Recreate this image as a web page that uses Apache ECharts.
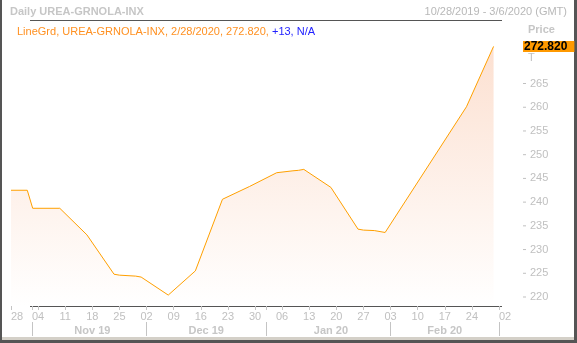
<!DOCTYPE html>
<html>
<head>
<meta charset="utf-8">
<script src="https://cdn.jsdelivr.net/npm/echarts@6/dist/echarts.min.js"></script>
<style>
html,body{margin:0;padding:0;background:#fff;}
#chart{width:577px;height:343px;}
</style>
</head>
<body>
<div id="chart"></div>
<script>
// ---- data ----
const axisStart = '2019-10-28';
const axisEnd = '2020-03-02';
const pointDates = ['2019-10-28','2019-10-31','2019-11-01','2019-11-08','2019-11-15','2019-11-22','2019-11-25','2019-11-28','2019-11-29','2019-12-06','2019-12-13','2019-12-20','2019-12-27','2020-01-03','2020-01-08','2020-01-09','2020-01-10','2020-01-17','2020-01-24','2020-01-27','2020-01-29','2020-01-31','2020-02-21','2020-02-28'];
const pointValues = [242.5,242.5,238.7,238.7,233.1,224.8,224.6,224.4,224.2,220.4,225.5,240.6,243.3,246.2,246.6,246.7,246.9,243.1,234.3,234.1,234.0,233.6,260.1,272.82];
const yTicks = [220,225,230,235,240,245,250,255,260,265];
const lastPrice = 272.82;
const titleText = 'Daily UREA-GRNOLA-INX';
const rangeText = '10/28/2019 - 3/6/2020 (GMT)';
const legendMain = 'LineGrd, UREA-GRNOLA-INX, 2/28/2020, 272.820, ';
const legendChange = '+13, N/A';
const monthNames = ['Jan','Feb','Mar','Apr','May','Jun','Jul','Aug','Sep','Oct','Nov','Dec'];

// ---- business-day categories ----
function fmt(d){return d.toISOString().slice(0,10);}
const categories = [];
{
  const s = new Date(axisStart+'T00:00:00Z'), e = new Date(axisEnd+'T00:00:00Z');
  for (let d = new Date(s); d <= e; d.setUTCDate(d.getUTCDate()+1)) {
    const w = d.getUTCDay();
    if (w !== 0 && w !== 6) categories.push(fmt(d));
  }
}
const dow = c => new Date(c+'T00:00:00Z').getUTCDay();
const monthStarts = [];
categories.forEach((c,i)=>{ if (i>0 && c.slice(5,7)!==categories[i-1].slice(5,7)) monthStarts.push(i); });
const monthLabelIdx = {};
for (let k=0;k<monthStarts.length-1;k++){
  const m = Math.round((monthStarts[k]+monthStarts[k+1])/2);
  const c = categories[monthStarts[k]];
  monthLabelIdx[m] = monthNames[+c.slice(5,7)-1]+' '+c.slice(2,4);
}
const seriesData = pointDates.map((d,i)=>[d, pointValues[i]]);

const FONT = '"Liberation Sans", Arial, sans-serif';
const chart = echarts.init(document.getElementById('chart'), null, {renderer:'canvas'});
chart.setOption({
  animation:false,
  backgroundColor:'#ffffff',
  textStyle:{fontFamily:FONT},
  title:[
    {text:titleText,left:10,top:6,padding:0,textStyle:{fontSize:11,fontWeight:'bold',color:'#c6c6c6',fontFamily:FONT}},
    {text:rangeText,right:10,top:6,padding:0,textStyle:{fontSize:11,fontWeight:'normal',color:'#b8b8b8',fontFamily:FONT}},
    {text:'Price',left:528,top:24,padding:0,textStyle:{fontSize:11,fontWeight:'bold',color:'#c6c6c6',fontFamily:FONT}},
    {text:'T',left:528,top:52,padding:0,textStyle:{fontSize:11,fontWeight:'normal',color:'#c0c0c0',fontFamily:FONT}}
  ],
  legend:{
    left:11, top:26, itemWidth:0, itemHeight:0, itemGap:0, padding:0,
    selectedMode:false,
    data:['UREA-GRNOLA-INX'],
    formatter:()=>'{o|'+legendMain+'}{b|'+legendChange+'}',
    textStyle:{fontFamily:FONT,fontSize:11,
      rich:{o:{color:'#ff9122',fontSize:11,fontFamily:FONT},b:{color:'#2222ff',fontSize:11,fontFamily:FONT}}}
  },
  grid:{left:11,right:78,top:35,bottom:37},
  xAxis:[
    {type:'category',data:categories,boundaryGap:false,
     axisLine:{show:false},
     axisTick:{show:true,length:4,lineStyle:{color:'#c4c4c4'},
       interval:(i,v)=>dow(v)===1 || monthStarts.indexOf(i)>=0},
     axisLabel:{color:'#c0c0c0',fontSize:11,margin:5,fontFamily:FONT,
       alignMinLabel:'left',alignMaxLabel:'left',
       interval:(i,v)=>dow(v)===1,
       formatter:v=>v.slice(8,10)},
     splitLine:{show:false}},
    {type:'category',data:categories,boundaryGap:false,position:'bottom',offset:16,
     axisLine:{show:false},
     axisTick:{show:true,length:14,lineStyle:{color:'#c4c4c4'},
       interval:(i)=>monthStarts.indexOf(i)>=0},
     axisLabel:{color:'#c6c6c6',fontSize:11,fontWeight:'bold',margin:3,fontFamily:FONT,
       interval:(i)=>monthLabelIdx[i]!==undefined,
       formatter:(v,i)=>monthLabelIdx[i]||''},
     splitLine:{show:false}}
  ],
  yAxis:{type:'value',position:'right',offset:24,min:218.1,max:275.23,
    axisLine:{show:false},
    axisTick:{show:false},
    axisLabel:{color:'#c0c0c0',fontSize:11,margin:0,fontFamily:FONT,customValues:yTicks,
      formatter:v=>(yTicks.indexOf(v)>=0 ? '{t| }{n|'+v+'}' : ''),
      rich:{
        t:{width:3,height:1,lineHeight:1,backgroundColor:'#c0c0c0',verticalAlign:'middle',fontSize:1},
        n:{color:'#c0c0c0',fontSize:11,fontFamily:FONT,padding:[0,0,0,4],verticalAlign:'middle'}
      }},
    splitLine:{show:false}},
  series:[{
    name:'UREA-GRNOLA-INX',type:'line',data:seriesData,showSymbol:false,symbol:'none',
    lineStyle:{color:'#ffa000',width:1},
    itemStyle:{color:'#ffa000'},
    areaStyle:{color:new echarts.graphic.LinearGradient(0,0,0,1,[
      {offset:0,color:'#fbd3bd'},{offset:1,color:'#ffffff'}])},
    markLine:{silent:true,symbol:['none','none'],
      lineStyle:{color:'rgba(0,0,0,0)',width:1,type:'solid'},
      data:[{yAxis:lastPrice}],
      label:{show:true,position:'end',distance:24,opacity:1,
        formatter:()=>lastPrice.toFixed(3),
        backgroundColor:'#ff9900',color:'#000000',fontWeight:'bold',fontSize:12,
        fontFamily:FONT,padding:[0,7,0,1],lineHeight:11}}
  }],
  graphic:[
    {type:'line',shape:{x1:30,y1:20.5,x2:502,y2:20.5},style:{stroke:'#555555',lineWidth:1},silent:true},
    {type:'line',shape:{x1:30,y1:306.5,x2:502,y2:306.5},style:{stroke:'#555555',lineWidth:1},silent:true},
    {type:'rect',shape:{x:0,y:0,width:2,height:343},style:{fill:'#555555'},silent:true},
    {type:'rect',shape:{x:574,y:0,width:3,height:343},style:{fill:'#555555'},silent:true},
    {type:'rect',shape:{x:2,y:337,width:572,height:3},style:{fill:'#d4d0c8'},silent:true},
    {type:'rect',shape:{x:0,y:340,width:577,height:3},style:{fill:'#555555'},silent:true}
  ]
});
</script>
</body>
</html>
